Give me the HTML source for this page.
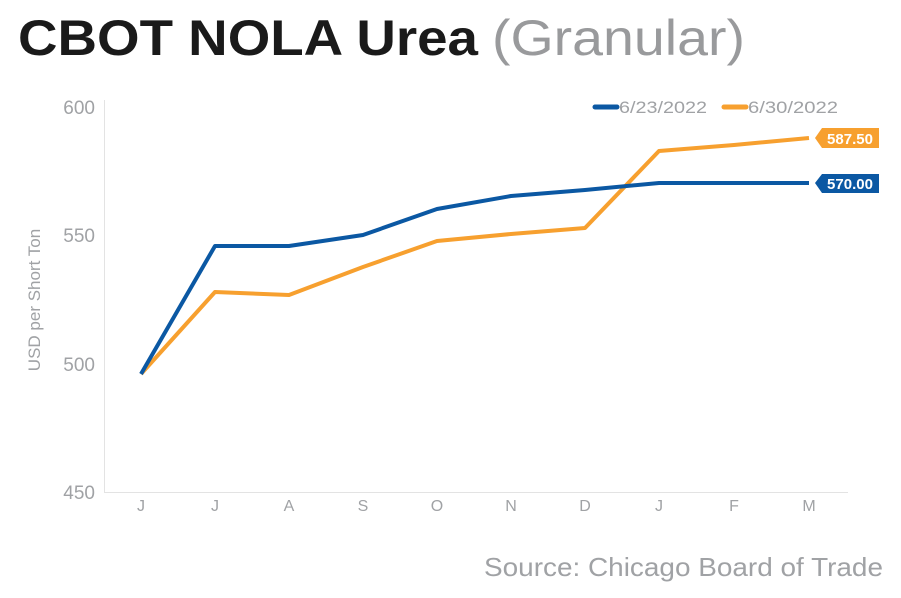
<!DOCTYPE html>
<html><head><meta charset="utf-8"><style>
body{margin:0;background:#fff;width:901px;height:598px;overflow:hidden}
</style></head><body>
<svg width="901" height="598" xmlns="http://www.w3.org/2000/svg" style="position:absolute;left:0;top:0">
<text x="18" y="55" font-family="Liberation Sans, sans-serif" font-size="50" font-weight="bold" fill="#1a1a1a" textLength="460" lengthAdjust="spacingAndGlyphs">CBOT NOLA Urea</text>
<text x="492" y="55" font-family="Liberation Sans, sans-serif" font-size="50" fill="#999a9c" textLength="253" lengthAdjust="spacingAndGlyphs">(Granular)</text>
<line x1="104.5" y1="100" x2="104.5" y2="492" stroke="#e3e3e3" stroke-width="1"/>
<line x1="104" y1="492.5" x2="848" y2="492.5" stroke="#e3e3e3" stroke-width="1"/>
<g font-family="Liberation Sans, sans-serif" font-size="19" fill="#a0a2a5" text-anchor="end">
<text x="95" y="114">600</text><text x="95" y="242">550</text><text x="95" y="371">500</text><text x="95" y="499">450</text>
</g>
<text transform="translate(40,300) rotate(-90)" font-family="Liberation Sans, sans-serif" font-size="17" fill="#a0a2a5" text-anchor="middle">USD per Short Ton</text>
<g font-family="Liberation Sans, sans-serif" font-size="16" fill="#a0a2a5" text-anchor="middle">
<text x="141" y="511">J</text><text x="215" y="511">J</text><text x="289" y="511">A</text><text x="363" y="511">S</text><text x="437" y="511">O</text><text x="511" y="511">N</text><text x="585" y="511">D</text><text x="659" y="511">J</text><text x="734" y="511">F</text><text x="809" y="511">M</text>
</g>
<polyline fill="none" stroke="#f7a02f" stroke-width="4" stroke-linejoin="round" points="141,374 215,292 289,295 363,267 437,241 511,234 585,228 659,151 734,145 809,138"/>
<polyline fill="none" stroke="#0b58a3" stroke-width="4" stroke-linejoin="round" points="141,374 215,246 289,246 363,235 437,209 511,196 585,190 659,183 734,183 809,183"/>
<polygon points="815,138 822,128 879,128 879,148 822,148" fill="#f7a02f"/>
<text x="850" y="144" font-family="Liberation Sans, sans-serif" font-size="15" font-weight="bold" fill="#fff" text-anchor="middle">587.50</text>
<polygon points="815,183 822,174 879,174 879,193 822,193" fill="#0b58a3"/>
<text x="850" y="189" font-family="Liberation Sans, sans-serif" font-size="15" font-weight="bold" fill="#fff" text-anchor="middle">570.00</text>
<line x1="595" y1="107" x2="617" y2="107" stroke="#0b58a3" stroke-width="5" stroke-linecap="round"/>
<text x="619" y="113" font-family="Liberation Sans, sans-serif" font-size="17" fill="#a0a2a5" textLength="88" lengthAdjust="spacingAndGlyphs">6/23/2022</text>
<line x1="724" y1="107" x2="746" y2="107" stroke="#f7a02f" stroke-width="5" stroke-linecap="round"/>
<text x="748" y="113" font-family="Liberation Sans, sans-serif" font-size="17" fill="#a0a2a5" textLength="90" lengthAdjust="spacingAndGlyphs">6/30/2022</text>
<text x="484" y="576" font-family="Liberation Sans, sans-serif" font-size="26" fill="#a0a2a5" textLength="399" lengthAdjust="spacingAndGlyphs">Source: Chicago Board of Trade</text>
</svg>
</body></html>
